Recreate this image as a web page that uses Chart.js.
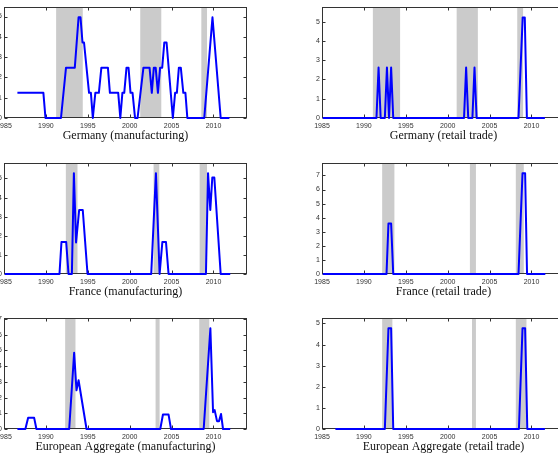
<!DOCTYPE html>
<html lang="en">
<head>
<meta charset="UTF-8" />
<title>Recession probability panels</title>
<script src="https://cdn.jsdelivr.net/npm/chart.js@4.4.1/dist/chart.umd.min.js"></script>
<style>
  html, body { margin: 0; padding: 0; background: #fff; overflow: hidden; }
  body { width: 558px; height: 456px; position: relative; }
  .panel { position: absolute; }
</style>
</head>
<body>
<canvas id="deMfg" class="panel" width="276" height="142" style="left:-26px;top:1px"></canvas>
<canvas id="deRet" class="panel" width="276" height="142" style="left:292px;top:1px"></canvas>
<canvas id="frMfg" class="panel" width="276" height="142" style="left:-26px;top:157px"></canvas>
<canvas id="frRet" class="panel" width="276" height="142" style="left:292px;top:157px"></canvas>
<canvas id="eaMfg" class="panel" width="276" height="142" style="left:-26px;top:312px"></canvas>
<canvas id="eaRet" class="panel" width="276" height="142" style="left:292px;top:312px"></canvas>

<script>
// x axis ticks shared by all panels
const xTicks = [1985, 1990, 1995, 2000, 2005, 2010];

// [year, value] vertices of each line
const deMfg = [
  [1986.6, 1.24], [1989.7, 1.24], [1989.95, 0], [1991.8, 0], [1992.4, 2.48], [1993.45, 2.48],
  [1993.9, 4.96], [1994.13, 4.96], [1994.37, 3.72], [1994.55, 3.72], [1995.15, 1.24], [1995.37, 1.24],
  [1995.6, 0], [1995.9, 1.24], [1996.32, 1.24], [1996.62, 2.48], [1997.4, 2.48], [1997.64, 1.24],
  [1998.63, 1.24], [1998.88, 0], [1999.13, 1.24], [1999.35, 1.24], [1999.62, 2.48], [1999.86, 2.48],
  [2000.1, 1.24], [2000.34, 1.24], [2000.64, 0], [2000.94, 0], [2001.64, 2.48], [2002.37, 2.48],
  [2002.64, 1.24], [2002.88, 2.48], [2003.1, 2.48], [2003.37, 1.24], [2003.63, 2.48], [2003.88, 2.48],
  [2004.13, 3.72], [2004.4, 3.72], [2005.15, 0], [2005.42, 1.24], [2005.63, 1.24], [2005.87, 2.48],
  [2006.1, 2.48], [2006.4, 1.24], [2006.65, 1.24], [2006.88, 0], [2008.9, 0], [2009.88, 4.96],
  [2010.86, 0], [2011.9, 0]
];
const deRet = [
  [1985.1, 0], [1991.5, 0], [1991.75, 2.62], [1992.0, 0], [1992.5, 0], [1992.75, 2.62],
  [1993.0, 0], [1993.25, 2.62], [1993.5, 0], [2001.95, 0], [2002.2, 2.62], [2002.45, 0],
  [2002.95, 0], [2003.2, 2.62], [2003.45, 0], [2008.45, 0], [2008.95, 5.22], [2009.2, 5.22],
  [2009.45, 0], [2011.6, 0]
];
const frMfg = [
  [1985.1, 0], [1991.62, 0], [1991.86, 1.68], [1992.42, 1.68], [1992.7, 0], [1993.1, 0],
  [1993.34, 5.28], [1993.6, 1.65], [1993.97, 3.35], [1994.4, 3.35], [1994.97, 0], [2002.57, 0],
  [2003.13, 5.28], [2003.57, 0], [2003.9, 1.68], [2004.33, 1.68], [2004.64, 0], [2009.1, 0],
  [2009.35, 5.28], [2009.62, 3.35], [2009.86, 5.05], [2010.1, 5.05], [2010.86, 0], [2012.0, 0]
];
const frRet = [
  [1985.1, 0], [1992.7, 0], [1992.93, 3.58], [1993.25, 3.58], [1993.5, 0], [2008.45, 0],
  [2008.93, 7.16], [2009.24, 7.16], [2009.47, 0], [2011.65, 0]
];
const eaMfg = [
  [1986.6, 0], [1987.55, 0], [1987.88, 0.71], [1988.6, 0.71], [1988.87, 0], [1992.78, 0],
  [1993.37, 4.85], [1993.65, 2.46], [1993.9, 3.1], [1994.85, 0], [2003.65, 0], [2003.97, 0.92],
  [2004.64, 0.92], [2004.93, 0], [2008.83, 0], [2009.63, 6.41], [2009.95, 1.07], [2010.14, 1.2],
  [2010.42, 0.5], [2010.66, 0.5], [2010.9, 0.96], [2011.14, 0], [2012.0, 0]
];
const eaRet = [
  [1986.6, 0], [1992.5, 0], [1992.93, 4.77], [1993.25, 4.77], [1993.5, 0], [2008.5, 0],
  [2008.93, 4.77], [2009.24, 4.77], [2009.5, 0], [2011.6, 0]
];

// shaded recession periods [from, to]
const deMfgBands = [[1991.22, 1994.4], [2001.26, 2003.77], [2008.55, 2009.23]];
const deRetBands = [[1991.07, 1994.32], [2001.07, 2003.6], [2008.3, 2009.0]];
const frMfgBands = [[1992.38, 1993.77], [2002.85, 2003.53], [2008.35, 2009.23]];
const frRetBands = [[1992.18, 1993.64], [2002.65, 2003.37], [2008.13, 2009.08]];
const eaMfgBands = [[1992.3, 1993.53], [2003.09, 2003.57], [2008.3, 2009.5]];
const eaRetBands = [[1992.18, 1993.4], [2002.9, 2003.37], [2008.13, 2009.4]];

// y ticks per panel
const yTicks5 = [0, 1, 2, 3, 4, 5];
const yTicks7 = [0, 1, 2, 3, 4, 5, 6, 7];

// gray bands, then the box with inward ticks
const recessionPlugin = {
  id: "recession",
  beforeDatasetsDraw(chart, args, opts) {
    const { ctx, chartArea: a, scales: { x, y } } = chart;
    ctx.save();
    ctx.fillStyle = "#cbcbcb";
    opts.bands.forEach(([from, to]) => {
      const x0 = x.getPixelForValue(from);
      const x1 = x.getPixelForValue(to);
      ctx.fillRect(x0, a.top, x1 - x0, a.bottom - a.top);
    });

    const l = Math.round(a.left) + 0.5;
    const r = Math.round(a.right) - 0.5;
    const t = Math.round(a.top) + 0.5;
    const b = Math.round(a.bottom) - 0.5;
    ctx.strokeStyle = "#333";
    ctx.lineWidth = 1;
    ctx.strokeRect(l, t, r - l, b - t);
    ctx.beginPath();
    x.ticks.forEach((tk) => {
      const px = Math.round(x.getPixelForValue(tk.value)) + 0.5;
      ctx.moveTo(px, b); ctx.lineTo(px, b - 3);
      ctx.moveTo(px, t); ctx.lineTo(px, t + 3);
    });
    y.ticks.forEach((tk) => {
      const py = Math.round(y.getPixelForValue(tk.value)) + 0.5;
      ctx.moveTo(l, py); ctx.lineTo(l + 3, py);
      ctx.moveTo(r, py); ctx.lineTo(r - 3, py);
    });
    ctx.stroke();
    ctx.restore();
  },
};

const tickFont = { family: "'Liberation Sans', Arial, sans-serif", size: 7 };

function makePanel(id, title, series, bands, yMax, yTicks) {
  new Chart(document.getElementById(id), {
    type: "line",
    data: {
      datasets: [
        {
          data: series.map(([x, y]) => ({ x, y })),
          borderColor: "#0000ff",
          borderWidth: 2,
          borderJoinStyle: "round",
          pointRadius: 0,
          tension: 0,
          clip: 3,
        },
      ],
    },
    options: {
      responsive: false,
      animation: false,
      layout: { padding: { top: 6, right: 3, left: 0, bottom: 0 } },
      plugins: {
        legend: { display: false },
        tooltip: { enabled: false },
        recession: { bands },
      },
      scales: {
        x: {
          type: "linear",
          min: 1985,
          max: 2014,
          afterBuildTicks: (s) => { s.ticks = xTicks.map((v) => ({ value: v })); },
          afterFit: (s) => { s.height = 25; },
          grid: { display: false, drawTicks: false },
          border: { display: false },
          ticks: { font: tickFont, color: "#333", padding: 3.5, maxRotation: 0, autoSkip: false, callback: (v) => String(v) },
          title: {
            display: true,
            text: title,
            color: "#111",
            padding: 0,
            font: { family: "'Liberation Serif', 'Times New Roman', serif", size: 12 },
          },
        },
        y: {
          min: 0,
          max: yMax,
          afterBuildTicks: (s) => { s.ticks = yTicks.map((v) => ({ value: v })); },
          afterFit: (s) => { s.width = 30; },
          grid: { display: false, drawTicks: false },
          border: { display: false },
          ticks: { font: tickFont, color: "#333", padding: 2, callback: (v) => String(v) },
        },
      },
    },
    plugins: [recessionPlugin],
  });
}

makePanel("deMfg", "Germany (manufacturing)", deMfg, deMfgBands, 5.46, yTicks5);
makePanel("deRet", "Germany (retail trade)", deRet, deRetBands, 5.75, yTicks5);
makePanel("frMfg", "France (manufacturing)", frMfg, frMfgBands, 5.8, yTicks5);
makePanel("frRet", "France (retail trade)", frRet, frRetBands, 7.87, yTicks7);
makePanel("eaMfg", "European Aggregate (manufacturing)", eaMfg, eaMfgBands, 7.05, yTicks7);
makePanel("eaRet", "European Aggregate (retail trade)", eaRet, eaRetBands, 5.25, yTicks5);
</script>
</body>
</html>
